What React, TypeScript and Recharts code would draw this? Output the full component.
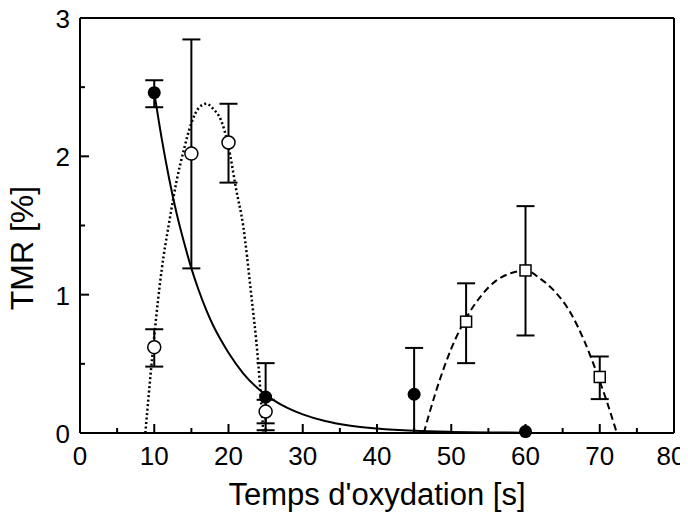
import React from 'react';
import { ComposedChart, Line, Scatter, ErrorBar, XAxis, YAxis } from 'recharts';

// measured points (x = s, y = %, err = [down, up])
const filledPoints = [
  { x: 10, y: 2.46, err: [0.105, 0.09] },
  { x: 25, y: 0.26, err: [0.24, 0.245] },
  { x: 45, y: 0.28, err: [0.28, 0.335] },
  { x: 60, y: 0.01 },
];

const openPoints = [
  { x: 10, y: 0.62, err: [0.14, 0.13] },
  { x: 15, y: 2.02, err: [0.83, 0.825] },
  { x: 20, y: 2.1, err: [0.29, 0.28] },
  { x: 25, y: 0.155, err: [0.085, 0.085] },
];

const squarePoints = [
  { x: 52, y: 0.805, err: [0.3, 0.277] },
  { x: 60, y: 1.175, err: [0.47, 0.465] },
  { x: 70, y: 0.405, err: [0.16, 0.148] },
];

// fitted curves
const solidFit = [
  { x: 10, y: 2.46 }, { x: 11, y: 2.13 }, { x: 12, y: 1.84 }, { x: 13, y: 1.59 },
  { x: 14, y: 1.38 }, { x: 15, y: 1.19 }, { x: 16, y: 1.03 }, { x: 17, y: 0.89 },
  { x: 18, y: 0.77 }, { x: 19, y: 0.67 }, { x: 20, y: 0.58 }, { x: 22, y: 0.43 },
  { x: 24, y: 0.32 }, { x: 26, y: 0.24 }, { x: 28, y: 0.18 }, { x: 30, y: 0.135 },
  { x: 33, y: 0.087 }, { x: 36, y: 0.056 }, { x: 40, y: 0.033 }, { x: 45, y: 0.016 },
  { x: 50, y: 0.008 }, { x: 55, y: 0.004 }, { x: 60, y: 0.002 },
];

const dottedFit = [
  { x: 8.8, y: 0 }, { x: 9.5, y: 0.42 }, { x: 10, y: 0.7 }, { x: 11, y: 1.18 },
  { x: 12, y: 1.52 }, { x: 13, y: 1.82 }, { x: 14, y: 2.05 }, { x: 15, y: 2.24 },
  { x: 16, y: 2.35 }, { x: 17, y: 2.38 }, { x: 18, y: 2.34 }, { x: 19, y: 2.26 },
  { x: 20, y: 2.07 }, { x: 21, y: 1.77 }, { x: 22, y: 1.49 }, { x: 23, y: 1.03 },
  { x: 24, y: 0.51 }, { x: 24.7, y: 0 },
];

const dashedFit = [
  { x: 46.3, y: 0 }, { x: 48, y: 0.31 }, { x: 50, y: 0.61 }, { x: 52, y: 0.83 },
  { x: 54, y: 0.99 }, { x: 56, y: 1.1 }, { x: 58, y: 1.155 }, { x: 60, y: 1.175 },
  { x: 62, y: 1.115 }, { x: 64, y: 1.02 }, { x: 66, y: 0.875 }, { x: 68, y: 0.655 },
  { x: 70, y: 0.375 }, { x: 71, y: 0.22 }, { x: 72.3, y: 0 },
];

const xTicks = [0, 5, 10, 15, 20, 25, 30, 35, 40, 45, 50, 55, 60, 65, 70, 75, 80];
const yTicks = [0, 0.5, 1, 1.5, 2, 2.5, 3];

const FONT = '"Liberation Sans", Arial, Helvetica, sans-serif';
const MAJOR = 9;
const MINOR = 5;
const TICK_FONT = 26;

const isMajorX = (v: number) => v % 10 === 0;
const isMajorY = (v: number) => Number.isInteger(v);

function BottomTick(props: any) {
  const { x, y, payload } = props;
  const major = isMajorX(payload.value);
  // last label sits against the window edge, pull it in a little
  const lx = payload.value === 80 ? x - 3 : x;
  return (
    <g>
      <line x1={x} y1={y} x2={x} y2={y - (major ? MAJOR : MINOR)} stroke="#000" strokeWidth={2} />
      {major && (
        <text x={lx} y={y + 32} textAnchor="middle" fontSize={TICK_FONT} fontFamily={FONT} fill="#000">
          {payload.value}
        </text>
      )}
    </g>
  );
}

function TopTick(props: any) {
  const { x, y, payload } = props;
  const len = isMajorX(payload.value) ? MAJOR : MINOR;
  return <line x1={x} y1={y} x2={x} y2={y + len} stroke="#000" strokeWidth={2} />;
}

function LeftTick(props: any) {
  const { x, y, payload } = props;
  const major = isMajorY(payload.value);
  return (
    <g>
      <line x1={x} y1={y} x2={x + (major ? MAJOR : MINOR)} y2={y} stroke="#000" strokeWidth={2} />
      {major && (
        <text x={x - 10} y={y + 10} textAnchor="end" fontSize={TICK_FONT} fontFamily={FONT} fill="#000">
          {payload.value}
        </text>
      )}
    </g>
  );
}

function RightTick(props: any) {
  const { x, y, payload } = props;
  const len = isMajorY(payload.value) ? MAJOR : MINOR;
  return <line x1={x} y1={y} x2={x - len} y2={y} stroke="#000" strokeWidth={2} />;
}

const FilledDot = (p: any) => <circle cx={p.cx} cy={p.cy} r={6.5} fill="#000" />;
const OpenDot = (p: any) => <circle cx={p.cx} cy={p.cy} r={6.5} fill="#fff" stroke="#000" strokeWidth={1.5} />;
const SquareDot = (p: any) => (
  <rect x={p.cx - 5.5} y={p.cy - 5.5} width={11} height={11} fill="#fff" stroke="#000" strokeWidth={1.5} />
);

const XTitle = () => (
  <text x={377} y={505} textAnchor="middle" fontSize={31} fontFamily={FONT} fill="#000">
    Temps d'oxydation [s]
  </text>
);

const YTitle = () => (
  <text
    x={33}
    y={248}
    transform="rotate(-90 33 248)"
    textAnchor="middle"
    fontSize={32}
    fontFamily={FONT}
    fill="#000"
  >
    TMR [%]
  </text>
);

const axisLine = { stroke: '#000', strokeWidth: 2 };

export default function App() {
  // the chart covers the whole window, body margin cancelled
  return (
    <div style={{ width: 688, height: 526, margin: -8, background: '#fff' }}>
      <ComposedChart width={688} height={526} margin={{ top: 0, right: 0, bottom: 0, left: 0 }}>
        <XAxis
          xAxisId="b"
          type="number"
          dataKey="x"
          domain={[0, 80]}
          ticks={xTicks}
          interval={0}
          height={93}
          tickSize={0}
          tickMargin={0}
          tickLine={false}
          axisLine={axisLine}
          tick={(p: any) => <BottomTick {...p} />}
          label={<XTitle />}
        />
        <XAxis
          xAxisId="t"
          type="number"
          orientation="top"
          domain={[0, 80]}
          ticks={xTicks}
          interval={0}
          height={18}
          tickSize={0}
          tickMargin={0}
          tickLine={false}
          axisLine={axisLine}
          tick={(p: any) => <TopTick {...p} />}
        />
        <YAxis
          yAxisId="l"
          type="number"
          domain={[0, 3]}
          ticks={yTicks}
          interval={0}
          width={80}
          tickSize={0}
          tickMargin={0}
          tickLine={false}
          axisLine={axisLine}
          tick={(p: any) => <LeftTick {...p} />}
          label={<YTitle />}
        />
        <YAxis
          yAxisId="r"
          type="number"
          orientation="right"
          domain={[0, 3]}
          ticks={yTicks}
          interval={0}
          width={14}
          tickSize={0}
          tickMargin={0}
          tickLine={false}
          axisLine={axisLine}
          tick={(p: any) => <RightTick {...p} />}
        />

        <Scatter xAxisId="b" yAxisId="l" data={openPoints} dataKey="y" shape={OpenDot} isAnimationActive={false}>
          <ErrorBar dataKey="err" direction="y" width={9} stroke="#000" strokeWidth={2} isAnimationActive={false} />
        </Scatter>
        <Scatter xAxisId="b" yAxisId="l" data={filledPoints} dataKey="y" shape={FilledDot} isAnimationActive={false}>
          <ErrorBar dataKey="err" direction="y" width={9} stroke="#000" strokeWidth={2} isAnimationActive={false} />
        </Scatter>
        <Scatter xAxisId="b" yAxisId="l" data={squarePoints} dataKey="y" shape={SquareDot} isAnimationActive={false}>
          <ErrorBar dataKey="err" direction="y" width={9} stroke="#000" strokeWidth={2} isAnimationActive={false} />
        </Scatter>

        <Line xAxisId="b" yAxisId="l" data={solidFit} dataKey="y" type="monotone" stroke="#000" strokeWidth={2} dot={false} isAnimationActive={false} />
        <Line xAxisId="b" yAxisId="l" data={dottedFit} dataKey="y" type="monotone" stroke="#000" strokeWidth={2.5} strokeDasharray="2 2.5" dot={false} isAnimationActive={false} />
        <Line xAxisId="b" yAxisId="l" data={dashedFit} dataKey="y" type="monotone" stroke="#000" strokeWidth={2} strokeDasharray="7 4" dot={false} isAnimationActive={false} />
      </ComposedChart>
    </div>
  );
}
